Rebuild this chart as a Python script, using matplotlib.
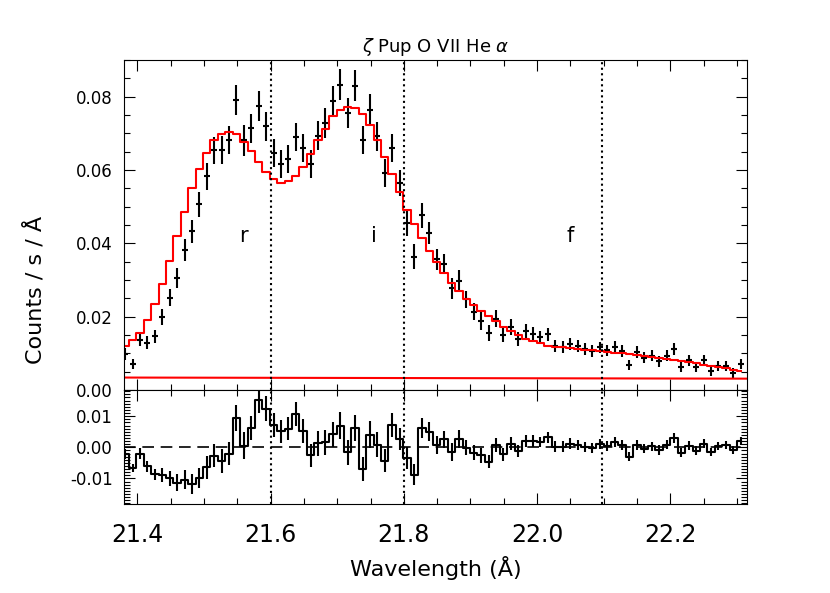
import numpy as np
import matplotlib
matplotlib.use('Agg')
import matplotlib.pyplot as plt
from matplotlib.ticker import MultipleLocator, FormatStrFormatter

plt.rcParams['axes.unicode_minus'] = False

# binned spectrum, O VII He-alpha region
bin_start = 21.3818
bin_width = 0.01113

counts = [0.0098, 0.0070, 0.0136, 0.0129, 0.0147, 0.0200, 0.0252, 0.0306, 0.0382, 0.0433,
          0.0506, 0.0583, 0.0654, 0.0655, 0.0683, 0.0791, 0.0681, 0.0714, 0.0774, 0.0719,
          0.0646, 0.0616, 0.0629, 0.0690, 0.0661, 0.0617, 0.0694, 0.0728, 0.0788, 0.0833,
          0.0755, 0.0830, 0.0683, 0.0765, 0.0692, 0.0592, 0.0660, 0.0565, 0.0456, 0.0364,
          0.0476, 0.0428, 0.0356, 0.0345, 0.0277, 0.0297, 0.0247, 0.0214, 0.0189, 0.0155,
          0.0195, 0.0150, 0.0172, 0.0139, 0.0160, 0.0154, 0.0144, 0.0152, 0.0120, 0.0118,
          0.0126, 0.0120, 0.0111, 0.0107, 0.0116, 0.0108, 0.0118, 0.0107, 0.0068, 0.0103,
          0.0088, 0.0093, 0.0078, 0.0093, 0.0111, 0.0062, 0.0081, 0.0062, 0.0081, 0.0052,
          0.0066, 0.0066, 0.0046, 0.0071]

model = [0.0120, 0.0136, 0.0156, 0.0190, 0.0234, 0.0289, 0.0351, 0.0419, 0.0486, 0.0550,
         0.0604, 0.0647, 0.0681, 0.0699, 0.0703, 0.0697, 0.0676, 0.0652, 0.0622, 0.0595,
         0.0575, 0.0565, 0.0569, 0.0583, 0.0608, 0.0643, 0.0681, 0.0712, 0.0746, 0.0764,
         0.0771, 0.0768, 0.0753, 0.0724, 0.0683, 0.0635, 0.0588, 0.0539, 0.0491, 0.0452,
         0.0414, 0.0378, 0.0350, 0.0319, 0.0292, 0.0270, 0.0248, 0.0231, 0.0215, 0.0201,
         0.0188, 0.0173, 0.0161, 0.0151, 0.0140, 0.0134, 0.0127, 0.0120, 0.0118, 0.0116,
         0.0114, 0.0112, 0.0110, 0.0108, 0.0106, 0.0104, 0.0102, 0.0100, 0.0098, 0.0095,
         0.0092, 0.0090, 0.0087, 0.0085, 0.0082, 0.0079, 0.0076, 0.0073, 0.0069, 0.0066,
         0.0062, 0.0059, 0.0055, 0.0051]

errors = [0.0017, 0.0014, 0.0017, 0.0018, 0.0018, 0.0022, 0.0024, 0.0027, 0.0030, 0.0032,
          0.0033, 0.0037, 0.0037, 0.0038, 0.0038, 0.0041, 0.0043, 0.0040, 0.0041, 0.0040,
          0.0038, 0.0038, 0.0038, 0.0039, 0.0038, 0.0038, 0.0040, 0.0041, 0.0040, 0.0043,
          0.0041, 0.0042, 0.0038, 0.0042, 0.0039, 0.0037, 0.0038, 0.0036, 0.0035, 0.0033,
          0.0033, 0.0031, 0.0029, 0.0027, 0.0028, 0.0029, 0.0024, 0.0023, 0.0025, 0.0021,
          0.0023, 0.0020, 0.0021, 0.0019, 0.0019, 0.0019, 0.0017, 0.0018, 0.0017, 0.0017,
          0.0017, 0.0017, 0.0016, 0.0016, 0.0016, 0.0016, 0.0016, 0.0016, 0.0014, 0.0016,
          0.0015, 0.0015, 0.0015, 0.0015, 0.0016, 0.0014, 0.0015, 0.0014, 0.0015, 0.0013,
          0.0014, 0.0014, 0.0013, 0.0014]

bkg_wave = [21.38, 22.315]
bkg_flux = [0.0034, 0.0031]

line_wave = [21.600, 21.800, 22.097]
line_names = ['r', 'i', 'f']
name_wave = [21.559, 21.755, 22.050]
name_flux = 0.042

wave = bin_start + bin_width * np.arange(len(counts))
resid = np.array(counts) - np.array(model)

fig = plt.figure(figsize=(8.3, 5.93), dpi=100)
ax1 = fig.add_axes([0.1494, 0.3423, 0.7506, 0.5565])
ax2 = fig.add_axes([0.1494, 0.1501, 0.7506, 0.1922], sharex=ax1)

# top: data + model
ax1.errorbar(wave, counts, yerr=errors, xerr=0.0045, fmt='none', ecolor='k', elinewidth=1.5, capsize=0)
ax1.step(wave, model, where='mid', color='red', lw=1.5)
ax1.plot(bkg_wave, bkg_flux, color='red', lw=1.5)
for lw_, name, nw in zip(line_wave, line_names, name_wave):
    ax1.axvline(lw_, color='k', ls=':', lw=1.5)
    ax1.text(nw, name_flux, name, fontsize=15, ha='center', va='center')

ax1.set_xlim(21.38, 22.315)
ax1.set_ylim(0, 0.09)
ax1.yaxis.set_major_locator(MultipleLocator(0.02))
ax1.yaxis.set_minor_locator(MultipleLocator(0.005))
ax1.yaxis.set_major_formatter(FormatStrFormatter('%.2f'))
ax1.xaxis.set_major_locator(MultipleLocator(0.2))
ax1.xaxis.set_minor_locator(MultipleLocator(0.05))
ax1.tick_params(axis='x', labelbottom=False)
ax1.set_title(r'$\zeta$ Pup O VII He $\alpha$', fontsize=13, pad=6)

# bottom: residuals
ax2.step(wave, resid, where='mid', color='k', lw=1.5)
ax2.errorbar(wave, resid, yerr=errors, fmt='none', ecolor='k', elinewidth=1.5, capsize=0)
ax2.axhline(0, color='k', lw=1.2, ls=(0, (7, 4)))
for lw_ in line_wave:
    ax2.axvline(lw_, color='k', ls=':', lw=1.5)
ax2.set_ylim(-0.0182, 0.0184)
ax2.yaxis.set_major_locator(MultipleLocator(0.01))
ax2.yaxis.set_minor_locator(MultipleLocator(0.001))
ax2.yaxis.set_major_formatter(FormatStrFormatter('%.2f'))
ax2.xaxis.set_major_locator(MultipleLocator(0.2))
ax2.xaxis.set_minor_locator(MultipleLocator(0.05))
ax2.xaxis.set_major_formatter(FormatStrFormatter('%.1f'))
ax2.set_xlabel('Wavelength (Å)', fontsize=16, labelpad=6)

for ax in (ax1, ax2):
    ax.tick_params(which='both', direction='in', top=True, right=True, width=0.8)
    ax.tick_params(which='major', length=8)
    ax.tick_params(which='minor', length=4)
    ax.tick_params(axis='y', labelsize=12, pad=8)
    for s in ax.spines.values():
        s.set_linewidth(0.8)
ax2.tick_params(axis='x', labelsize=17, pad=14)

fig.text(35 / 830, 1 - 290 / 593, 'Counts / s / Å', rotation=90, fontsize=16, ha='center', va='center')

fig.savefig('out.png', dpi=100)
